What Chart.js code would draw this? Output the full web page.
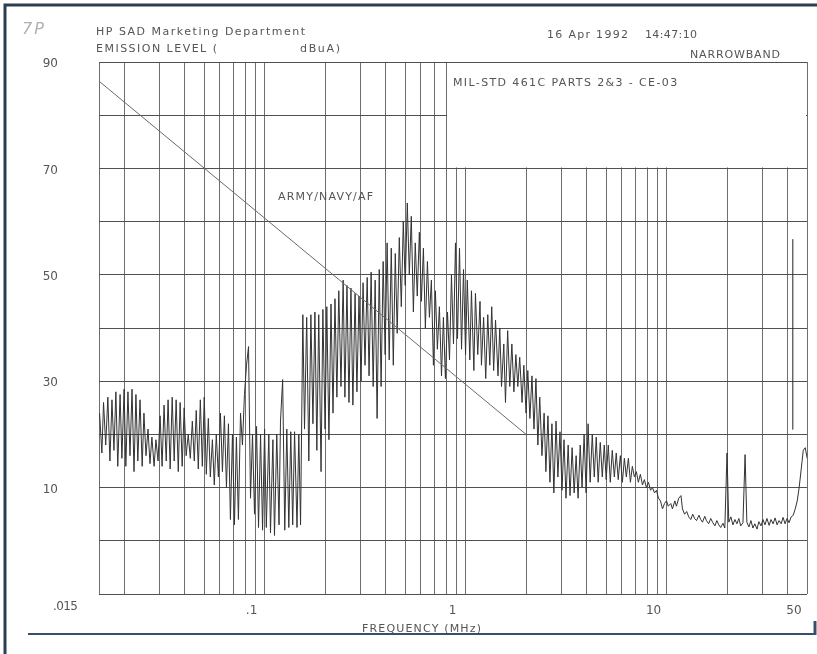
<!DOCTYPE html>
<html>
<head>
<meta charset="utf-8">
<title>CE-03 emission plot</title>
<script src="https://cdn.jsdelivr.net/npm/chart.js@4.4.1/dist/chart.umd.min.js"></script>
<style>
  body { margin: 0; background: #fff; }
  canvas { display: block; }
</style>
</head>
<body>
<canvas id="plot" width="817" height="654"></canvas>
<script>
/* CE-03 narrowband emission sweep, 15 kHz - 50 MHz */

// analyzer sweep points inside one decade (x 1..10)
const sweepSteps = [
  1.00, 1.02, 1.05, 1.07, 1.10, 1.12, 1.15, 1.18, 1.20, 1.23,
  1.26, 1.29, 1.32, 1.35, 1.38, 1.41, 1.45, 1.48, 1.51, 1.55,
  1.58, 1.62, 1.66, 1.70, 1.74, 1.78, 1.82, 1.86, 1.91, 1.95,
  2.00, 2.04, 2.09, 2.14, 2.19, 2.24, 2.29, 2.34, 2.40, 2.46,
  2.51, 2.57, 2.63, 2.69, 2.75, 2.82, 2.88, 2.95, 3.02, 3.09,
  3.16, 3.24, 3.31, 3.39, 3.47, 3.55, 3.63, 3.72, 3.80, 3.89,
  3.98, 4.07, 4.17, 4.27, 4.37, 4.47, 4.57, 4.68, 4.79, 4.90,
  5.01, 5.13, 5.25, 5.37, 5.50, 5.62, 5.75, 5.89, 6.03, 6.17,
  6.31, 6.46, 6.61, 6.76, 6.92, 7.08, 7.24, 7.41, 7.59, 7.76,
  7.94, 8.13, 8.32, 8.51, 8.71, 8.91, 9.12, 9.33, 9.55, 9.77
];

// measured level (dBuA) per sweep point, one array per decade
const levels10k = [      // 0.015 - 0.1 MHz (points 18..99)
  24, 16.5, 26, 18, 27, 15, 26.5, 17, 28, 14,
  27.5, 15.5, 28.5, 14, 28, 16, 28.5, 13, 27.5, 15,
  26.5, 14, 24, 16, 21, 14.5, 19.5, 14, 19, 15,
  23.5, 14, 25.5, 15, 26.5, 13.5, 27, 15, 26.5, 13,
  26, 14, 25, 16, 20, 15.5, 22.5, 15, 24.5, 13.5,
  26.5, 14, 27, 12.5, 23, 12, 19, 10.5, 20, 12,
  24, 13, 23.5, 10, 22, 4, 20, 3, 19.5, 4,
  24, 18, 27.5, 33, 36.5, 8, 20, 5, 21.5, 2.5,
  20, 2
];
const levels100k = [     // 0.1 - 1 MHz
  21, 2.5, 20, 1.5, 19, 1, 20, 3, 22.5, 30.3,
  2, 21, 2.5, 20.5, 3, 20.5, 2.5, 20, 3, 42.5,
  21, 42, 15, 42.5, 22, 43, 17, 42.5, 13, 43.5,
  21, 44, 19, 44.5, 24, 45.5, 27, 47, 29, 49,
  27, 48, 26, 47.5, 25.5, 46.5, 28, 46, 30, 48.5,
  33, 49.5, 31, 50.5, 29, 49, 23, 51, 29, 52.5,
  35, 56, 34, 55, 33, 54, 39, 57, 44, 60,
  48, 63.5, 50, 61, 43, 56, 46, 58, 45, 55,
  40, 52.5, 42, 49, 33, 47, 36, 44, 31, 42,
  30.5, 43, 34, 50, 37, 56, 38, 55, 36, 51
];
const levels1M = [       // 1 - 10 MHz
  35, 49, 34, 47, 32, 46.5, 35, 45, 33, 42,
  30.5, 42.5, 33, 44, 32, 41.5, 31, 40, 29, 37,
  26, 39.5, 29, 37, 28, 35, 29, 34.5, 26, 33,
  24, 32, 23, 31, 21, 30.5, 18, 27, 16, 24,
  13, 23.5, 11, 22, 9, 22.5, 12, 20.5, 9.5, 19,
  8, 18, 8.5, 17.5, 9, 16, 8, 18, 10, 20,
  9, 22, 11, 20, 12, 19.5, 11, 18.5, 12, 18,
  11.5, 18, 11, 17, 12, 16.5, 11.5, 16, 11, 15.5,
  12, 15.5, 11, 14, 12, 13, 11, 12.5, 10.5, 11.5,
  10, 11, 9.5, 10, 9, 9.5, 8, 7.5, 6, 7
];
const levels10M = [      // 10 - 50 MHz (points 0..70)
  7.5, 6.5, 7, 6, 7.5, 6.5, 8, 8.5, 6, 5,
  5.5, 4.5, 4, 5, 4.2, 3.8, 4.8, 4, 3.5, 4.6,
  3.8, 3.2, 4.2, 3.4, 2.8, 3.8, 3, 2.5, 3.3, 2.4,
  16.5, 3.5, 4.5, 3, 4, 3.2, 4.2, 2.8, 3.4, 16.2,
  3.5, 2.6, 3.8, 2.4, 3.2, 2.2, 3.6, 2.8, 4, 3,
  4.2, 2.9, 4, 3.2, 4.3, 3, 3.8, 3.2, 4.4, 3.2,
  4.2, 3.4, 4.5, 4.8, 6, 7.5, 10, 13.5, 17, 17.5,
  15.5
];

// ARMY/NAVY/AF limit
const limitFreq  = [0.015, 2];
const limitLevel = [86.4, 20];

// lone vertical stroke near 42 MHz
const markFreq  = [42.5, 42.5];
const markLevel = [20.9, 56.7];

// axis grid and labels
const gridFreqs = [
  0.015, 0.02, 0.03, 0.04, 0.05, 0.06, 0.07, 0.08, 0.09,
  0.1, 0.2, 0.3, 0.4, 0.5, 0.6, 0.7, 0.8, 0.9,
  1, 2, 3, 4, 5, 6, 7, 8, 9,
  10, 20, 30, 40, 50
];
const freqLabelValues = [0.1, 1, 10, 50];
const freqLabelTexts  = ['.1', '1', '10', '50'];
const levelLabels     = [10, 30, 50, 70, 90];

function sweep(base, first, levels) {
  return levels.map((v, i) => ({ x: +(base * sweepSteps[first + i]).toPrecision(3), y: v }));
}
function pairs(xs, ys) {
  return xs.map((x, i) => ({ x, y: ys[i] }));
}

const trace = [].concat(
  sweep(0.01, 18, levels10k),
  sweep(0.1, 0, levels100k),
  sweep(1, 0, levels1M),
  sweep(10, 0, levels10M)
);

const FONT = '"DejaVu Sans", sans-serif';
const INK  = '#555';

// stretch text to the width it had on the plotter sheet
function fitText(ctx, str, left, midY, width) {
  ctx.letterSpacing = '0px';
  const w   = ctx.measureText(str).width;
  const gap = (width - w) / (str.length - 1);
  ctx.letterSpacing = gap.toFixed(2) + 'px';
  ctx.fillText(str, left, midY);
  ctx.letterSpacing = '0px';
}

const paperPlugin = {
  id: 'paper',
  beforeDraw(chart) {
    const ctx = chart.ctx;
    ctx.save();
    ctx.fillStyle = '#fff';
    ctx.fillRect(0, 0, chart.width, chart.height);
    ctx.restore();
  },
  beforeDatasetsDraw(chart) {
    // title block sits over the upper right part of the grid
    const { ctx, chartArea, scales: { x, y } } = chart;
    const bx = x.getPixelForValue(0.8);
    const by = y.getPixelForValue(70);
    ctx.save();
    ctx.fillStyle = '#fff';
    ctx.fillRect(bx + 1, chartArea.top + 1, chartArea.right - bx - 2, by - chartArea.top - 2);
    ctx.restore();
  },
  afterDraw(chart) {
    const ctx = chart.ctx;
    ctx.save();
    ctx.textBaseline = 'middle';
    ctx.textAlign = 'left';

    // logo
    ctx.fillStyle = '#b0b0b0';
    ctx.font = 'italic 16px ' + FONT;
    fitText(ctx, '7P', 22, 30, 22);

    ctx.fillStyle = INK;
    ctx.font = '11px ' + FONT;
    fitText(ctx, 'HP SAD Marketing Department', 96, 32, 209);
    fitText(ctx, 'EMISSION LEVEL (', 96, 49, 121);
    fitText(ctx, 'dBuA)', 300, 49, 40);
    fitText(ctx, '16 Apr 1992', 547, 35, 81);
    fitText(ctx, '14:47:10', 645, 35, 52);
    fitText(ctx, 'NARROWBAND', 690, 55, 90);
    fitText(ctx, 'MIL-STD 461C PARTS 2&3 - CE-03', 453, 83, 224);
    fitText(ctx, 'ARMY/NAVY/AF', 278, 197, 95);
    fitText(ctx, 'FREQUENCY (MHz)', 362, 629, 119);

    // start frequency sits left of the corner
    ctx.font = '12px ' + FONT;
    fitText(ctx, '.015', 53, 607, 25);

    // sheet frame
    ctx.strokeStyle = '#2c3e50';
    ctx.lineWidth = 3;
    ctx.beginPath();
    ctx.moveTo(5, 654);
    ctx.lineTo(5, 5);
    ctx.lineTo(817, 5);
    ctx.stroke();

    ctx.strokeStyle = '#36506c';
    ctx.lineWidth = 2;
    ctx.beginPath();
    ctx.moveTo(28, 634);
    ctx.lineTo(815, 634);
    ctx.stroke();
    ctx.lineWidth = 3;
    ctx.beginPath();
    ctx.moveTo(815, 621);
    ctx.lineTo(815, 635);
    ctx.stroke();
    ctx.restore();
  }
};

new Chart(document.getElementById('plot'), {
  type: 'line',
  data: {
    datasets: [
      {
        label: 'Limit',
        data: pairs(limitFreq, limitLevel),
        borderColor: '#6a6a6a',
        borderWidth: 1,
        pointRadius: 0,
      },
      {
        label: 'Emission',
        data: trace,
        borderColor: '#333',
        borderWidth: 1,
        pointRadius: 0,
        tension: 0,
      },
      {
        label: 'Mark',
        data: pairs(markFreq, markLevel),
        borderColor: '#222',
        borderWidth: 1,
        pointRadius: 0,
      },
    ],
  },
  options: {
    responsive: false,
    devicePixelRatio: 1,
    animation: false,
    layout: { padding: { top: 62, right: 10, bottom: 0, left: 0 } },
    plugins: {
      legend:  { display: false },
      tooltip: { enabled: false },
    },
    scales: {
      x: {
        type: 'logarithmic',
        min: 0.015,
        max: 50,
        bounds: 'data',
        afterBuildTicks: s => { s.ticks = gridFreqs.map(v => ({ value: v })); },
        afterFit: s => { s.height = 60; s.paddingLeft = 0; s.paddingRight = 0; },
        border: { display: false },
        grid: { color: '#6e6e6e', lineWidth: 1, drawTicks: false },
        ticks: {
          autoSkip: false,
          maxRotation: 0,
          padding: 10,
          labelOffset: -13,
          color: INK,
          font: { family: FONT, size: 12 },
          callback: v => {
            const i = freqLabelValues.indexOf(v);
            return i < 0 ? '' : freqLabelTexts[i];
          },
        },
      },
      y: {
        type: 'linear',
        min: -10,
        max: 90,
        afterFit: s => { s.width = 99; s.paddingTop = 0; s.paddingBottom = 0; },
        border: { display: false },
        grid: { color: '#505050', lineWidth: 1, drawTicks: false },
        ticks: {
          stepSize: 10,
          padding: 41,
          labelOffset: 2,
          color: INK,
          font: { family: FONT, size: 12 },
          callback: v => (levelLabels.includes(v) ? String(v) : ''),
        },
      },
    },
  },
  plugins: [paperPlugin],
});
</script>
</body>
</html>
